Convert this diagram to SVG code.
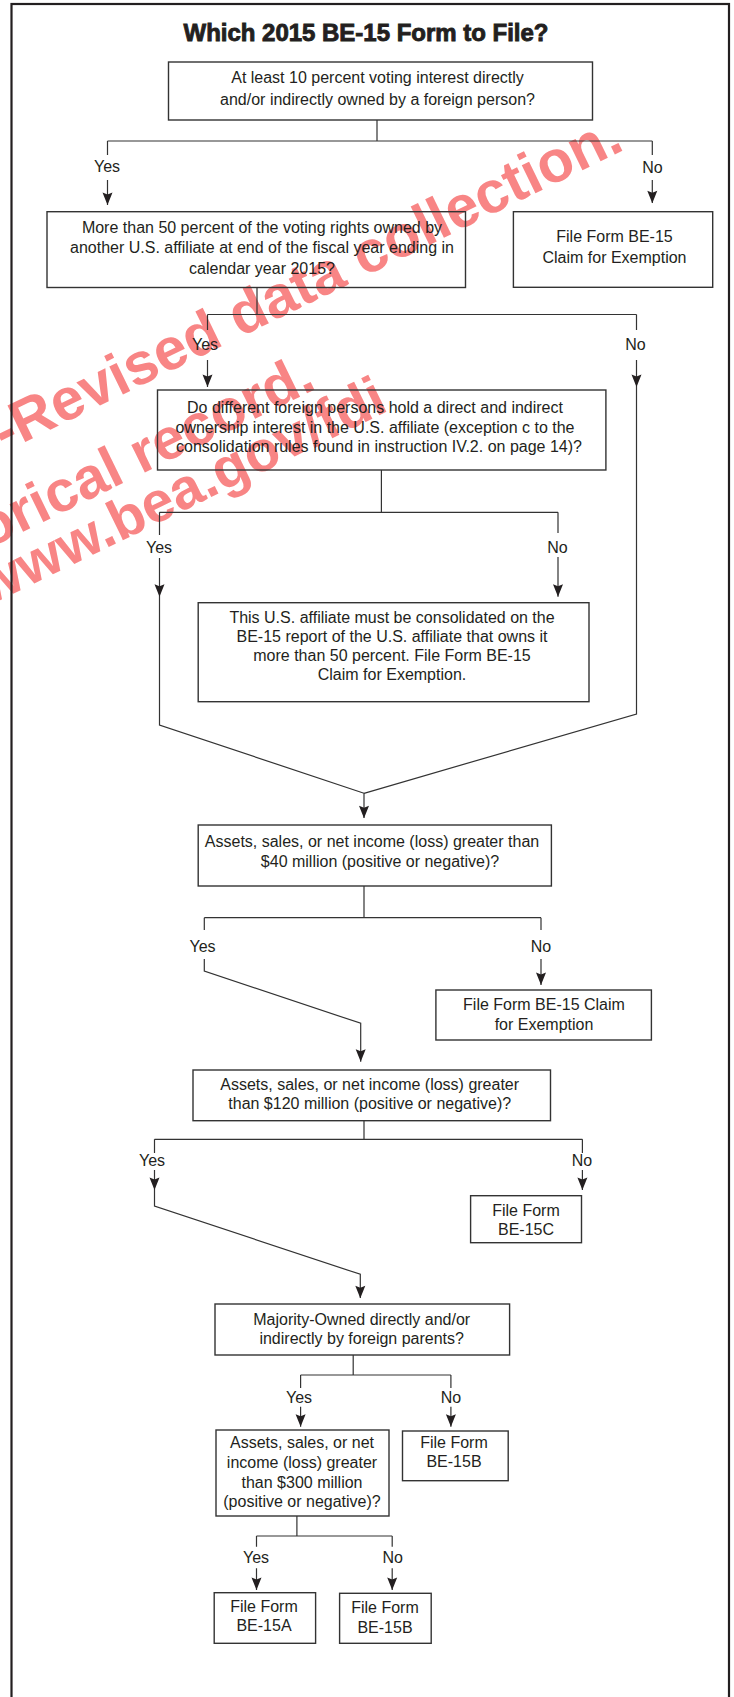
<svg xmlns="http://www.w3.org/2000/svg" width="734" height="1697" viewBox="0 0 734 1697">
<style>
.box{fill:none;stroke:#333;stroke-width:1.4}
.t{font-family:"Liberation Sans",Arial,sans-serif;font-size:16px;fill:#231f20;text-anchor:middle}
.ln{fill:none;stroke:#333;stroke-width:1.2}
.ah{fill:#231f20}
.wm{font-family:"Liberation Sans",Arial,sans-serif;font-weight:bold;fill:#f88585}
</style>
<defs>
<path id="ah" d="M0,0 L-5,-12.5 L0,-10.5 L5,-12.5 Z"/>
</defs>
<rect width="734" height="1697" fill="#fff"/>
<g id="watermark" class="wm">
<text transform="rotate(-26 626 149)" x="626" y="149" font-size="59" text-anchor="end">o-Revised data collection.</text>
<text transform="rotate(-26 318 388)" x="318" y="388" font-size="58" text-anchor="end">orical record.</text>
<text transform="rotate(-26 390 410)" x="390" y="410" font-size="57" text-anchor="end">www.bea.gov/fdi</text>
</g>
<rect id="frame" x="11.5" y="4" width="717.5" height="1710" fill="none" stroke="#231f20" stroke-width="2.2"/>
<text id="title" x="366" y="41" textLength="365" lengthAdjust="spacingAndGlyphs" style="font-family:'Liberation Sans',Arial,sans-serif;font-size:24px;font-weight:900;fill:#231f20;stroke:#231f20;stroke-width:0.9;text-anchor:middle">Which 2015 BE-15 Form to File?</text>

<g id="connectors">
<g class="ln">
<path d="M377,120V141M107.5,141H652.3M107.5,141V155M107.5,180V205M652.3,141V155M652.3,180V203"/>
<path d="M257,287.5V314.5M207.5,314.5H636.5M207.5,314.5V330M207.5,360V387M636.5,314.5V330M636.5,360V714L364,793.3"/>
<path d="M381.4,470V512.3M159.5,512.3H558M159.5,512.3V535M159.5,558V725L364,793.3M558,512.3V533M558,557V596.7"/>
<path d="M364,793.3V818"/>
<path d="M364,886V917.7M204.3,917.7H541M204.3,917.7V930M204.3,959V971L360.7,1023.3V1061.7M541,917.7V930M541,959V985"/>
<path d="M364,1120.7V1139.3M154.5,1139.3H582.4M154.5,1139.3V1153M154.5,1170V1206L360.3,1274.3V1298M582.4,1139.3V1153M582.4,1170V1190"/>
<path d="M353.2,1355V1375M300.6,1375H450.9M300.6,1375V1388M300.6,1406.7V1426.7M450.9,1375V1388M450.9,1406.7V1426.7"/>
<path d="M296.9,1516V1536M256.5,1536H392.2M256.5,1536V1546.7M256.5,1568.3V1590M392.2,1536V1546.7M392.2,1568.3V1590"/>
</g>
<g class="ah">
<use href="#ah" x="107.5" y="205"/>
<use href="#ah" x="652.3" y="203.3"/>
<use href="#ah" x="207.5" y="387"/>
<use href="#ah" x="636.5" y="387"/>
<use href="#ah" x="159.5" y="596.7"/>
<use href="#ah" x="558" y="596.7"/>
<use href="#ah" x="364" y="818.3"/>
<use href="#ah" x="541" y="985"/>
<use href="#ah" x="360.7" y="1061.7"/>
<use href="#ah" x="154.5" y="1190"/>
<use href="#ah" x="582.4" y="1190"/>
<use href="#ah" x="360.3" y="1298.3"/>
<use href="#ah" x="300.6" y="1426.7"/>
<use href="#ah" x="450.9" y="1426.7"/>
<use href="#ah" x="256.5" y="1590"/>
<use href="#ah" x="392.2" y="1590"/>
</g>
<g class="t">
<text x="107" y="172">Yes</text>
<text x="652.5" y="172.7">No</text>
<text x="205" y="350">Yes</text>
<text x="635.5" y="350">No</text>
<text x="159" y="553.3">Yes</text>
<text x="557.5" y="553.3">No</text>
<text x="202.5" y="951.7">Yes</text>
<text x="541" y="951.7">No</text>
<text x="152" y="1166">Yes</text>
<text x="582" y="1166">No</text>
<text x="299" y="1402.7">Yes</text>
<text x="451" y="1402.7">No</text>
<text x="256" y="1563.3">Yes</text>
<text x="392.7" y="1563.3">No</text>
</g>
</g>

<g id="n1"><rect class="box" x="168.5" y="62" width="424" height="58"/>
<text class="t" x="377.5" y="83.3">At least 10 percent voting interest directly</text>
<text class="t" x="377.5" y="104.7">and/or indirectly owned by a foreign person?</text></g>

<g id="n2"><rect class="box" x="47" y="211.7" width="418.5" height="75.8"/>
<text class="t" x="262" y="233.3">More than 50 percent of the voting rights owned by</text>
<text class="t" x="262" y="253.3">another U.S. affiliate at end of the fiscal year ending in</text>
<text class="t" x="262" y="273.6">calendar year 2015?</text></g>

<g id="n3"><rect class="box" x="513.4" y="211.7" width="199.3" height="75.6"/>
<text class="t" x="614.5" y="241.7">File Form BE-15</text>
<text class="t" x="614.5" y="262.5">Claim for Exemption</text></g>

<g id="n4"><rect class="box" x="157.5" y="390" width="448.4" height="80"/>
<text class="t" x="375" y="413.3">Do different foreign persons hold a direct and indirect</text>
<text class="t" x="375" y="432.5">ownership interest in the U.S. affiliate (exception c to the</text>
<text class="t" x="379" y="451.5">consolidation rules found in instruction IV.2. on page 14)?</text></g>

<g id="n5"><rect class="box" x="198.2" y="602.7" width="390.8" height="99"/>
<text class="t" x="392" y="623.3">This U.S. affiliate must be consolidated on the</text>
<text class="t" x="392" y="642.3">BE-15 report of the U.S. affiliate that owns it</text>
<text class="t" x="392" y="661">more than 50 percent. File Form BE-15</text>
<text class="t" x="392" y="680">Claim for Exemption.</text></g>

<g id="n6"><rect class="box" x="198.2" y="825" width="353.2" height="61"/>
<text class="t" x="372" y="847.3">Assets, sales, or net income (loss) greater than</text>
<text class="t" x="380" y="866.7">$40 million (positive or negative)?</text></g>

<g id="n7"><rect class="box" x="435.9" y="990" width="215.5" height="50"/>
<text class="t" x="544" y="1010">File Form BE-15 Claim</text>
<text class="t" x="544" y="1030">for Exemption</text></g>

<g id="n8"><rect class="box" x="193" y="1070" width="357.5" height="50.7"/>
<text class="t" x="369.7" y="1090">Assets, sales, or net income (loss) greater</text>
<text class="t" x="369.7" y="1109.3">than $120 million (positive or negative)?</text></g>

<g id="n9"><rect class="box" x="470.6" y="1195.7" width="110.9" height="47"/>
<text class="t" x="526" y="1216">File Form</text>
<text class="t" x="526" y="1235">BE-15C</text></g>

<g id="n10"><rect class="box" x="215" y="1304" width="294.6" height="51"/>
<text class="t" x="361.7" y="1325">Majority-Owned directly and/or</text>
<text class="t" x="361.7" y="1344">indirectly by foreign parents?</text></g>

<g id="n11"><rect class="box" x="216" y="1430" width="173" height="86"/>
<text class="t" x="302" y="1448.3">Assets, sales, or net</text>
<text class="t" x="302" y="1467.7">income (loss) greater</text>
<text class="t" x="302" y="1487.7">than $300 million</text>
<text class="t" x="302" y="1506.7">(positive or negative)?</text></g>

<g id="n12"><rect class="box" x="402.5" y="1431" width="105.7" height="49.7"/>
<text class="t" x="454" y="1448.3">File Form</text>
<text class="t" x="454" y="1467.3">BE-15B</text></g>

<g id="n13"><rect class="box" x="214.2" y="1592.7" width="101.4" height="50.6"/>
<text class="t" x="264" y="1611.7">File Form</text>
<text class="t" x="264" y="1630.7">BE-15A</text></g>

<g id="n14"><rect class="box" x="339.6" y="1593.3" width="91.6" height="50"/>
<text class="t" x="385" y="1613.3">File Form</text>
<text class="t" x="385" y="1632.7">BE-15B</text></g>
</svg>
